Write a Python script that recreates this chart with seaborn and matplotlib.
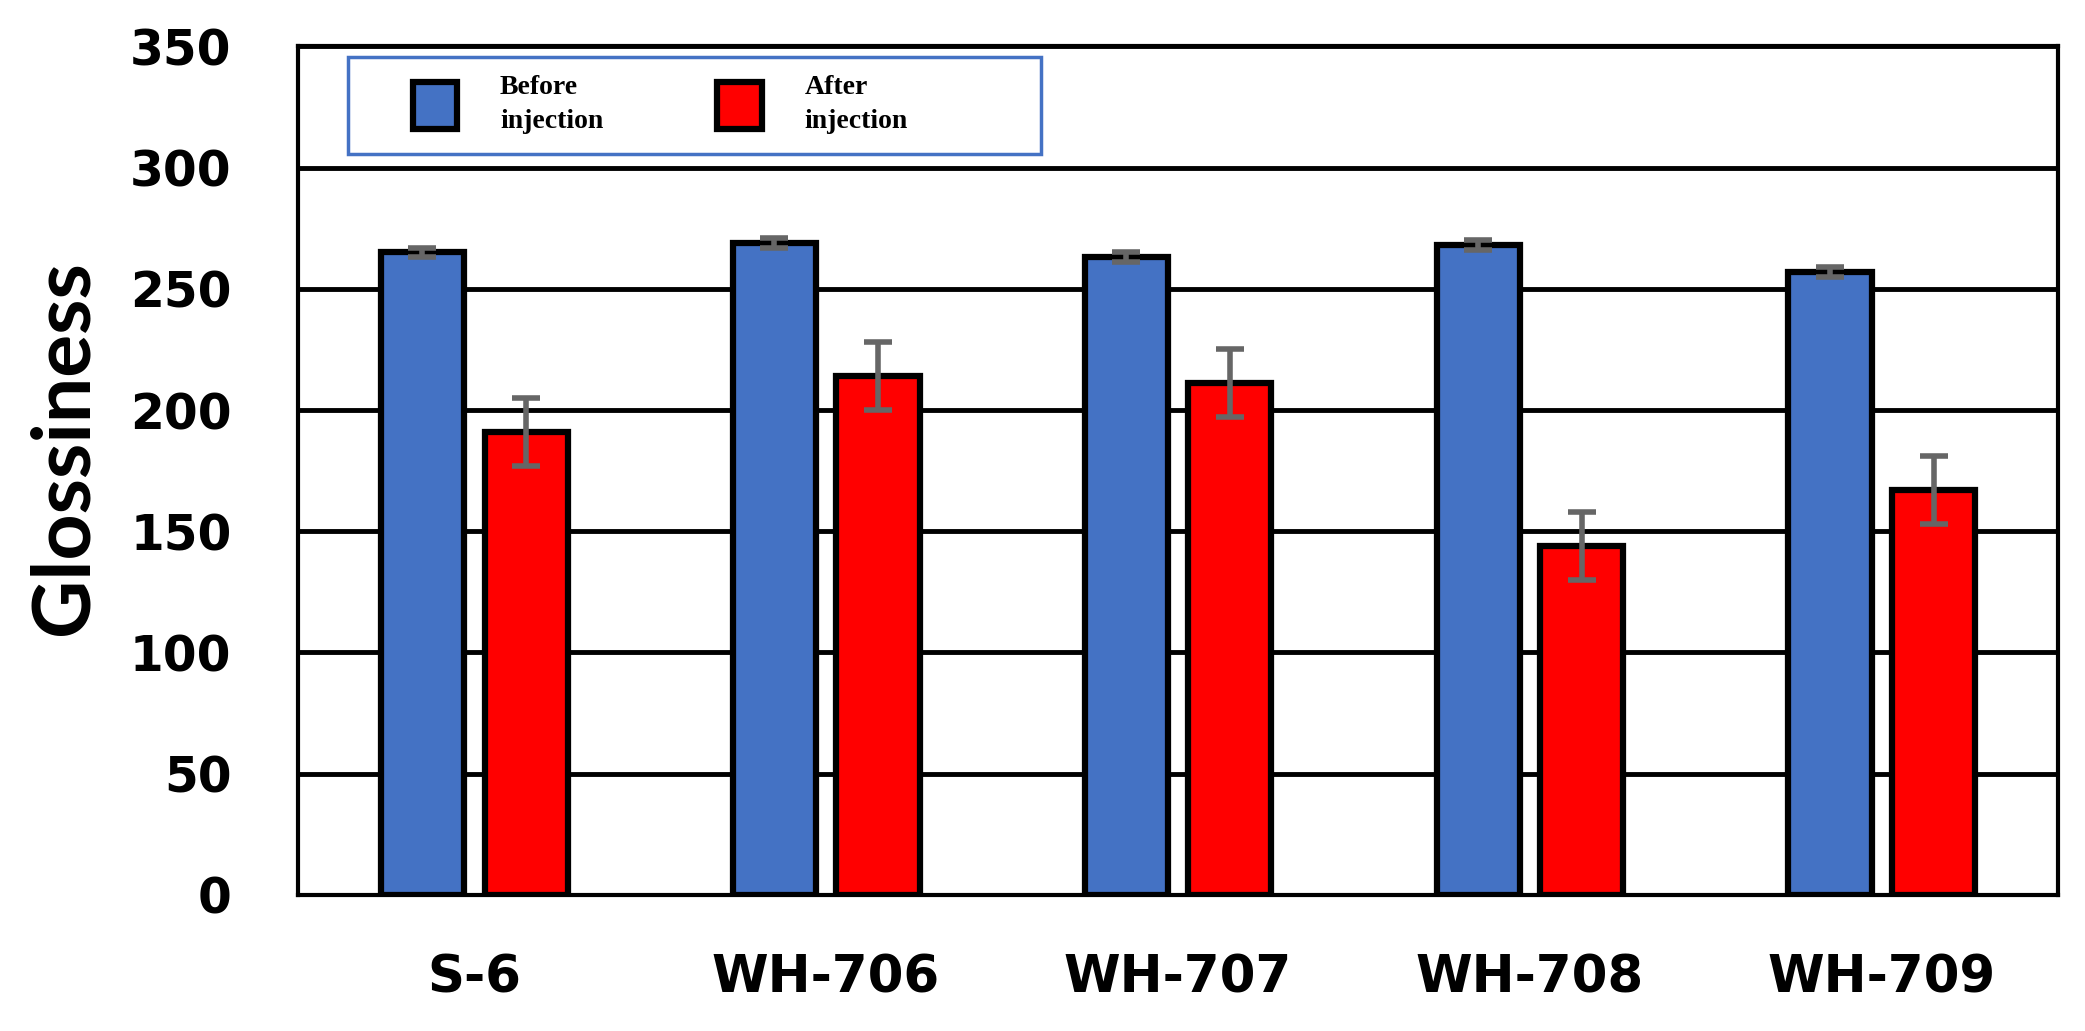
import matplotlib
matplotlib.use("Agg")
import matplotlib.pyplot as plt
from matplotlib.patches import Rectangle
import numpy as np
import pandas as pd
import seaborn as sns

samples = ["S-6", "WH-706", "WH-707", "WH-708", "WH-709"]
before = [265, 269, 263, 268, 257]
before_err = [2, 2, 2, 2, 2]
after = [191, 214, 211, 144, 167]
after_err = [14, 14, 14, 14, 14]
states = ["Before injection", "After injection"]

BLUE = "#4472C4"
RED = "#FF0000"

df = pd.DataFrame({
    "sample": samples * 2,
    "gloss": before + after,
    "state": [states[0]] * len(samples) + [states[1]] * len(samples),
})
errs = {states[0]: before_err, states[1]: after_err}

sns.set_theme(style="white")
fig, ax = plt.subplots(figsize=(20.85, 10.31), dpi=100)
fig.subplots_adjust(left=0.143, right=0.987, top=0.955, bottom=0.132)

sns.barplot(
    data=df, x="sample", y="gloss", hue="state", palette=[BLUE, RED],
    saturation=1, width=0.59, gap=0.2, edgecolor="black", linewidth=4.5,
    errorbar=None, ax=ax, zorder=3,
)

for cont, st in zip(ax.containers, states):
    xs = [p.get_x() + p.get_width() / 2 for p in cont]
    ys = [p.get_height() for p in cont]
    ax.errorbar(xs, ys, yerr=errs[st], fmt="none", ecolor="#666666",
                elinewidth=4, capsize=10, capthick=4, zorder=4)

ax.set_ylim(0, 350)
ax.set_yticks(np.arange(0, 351, 50))
ax.set_xlim(-0.5, len(samples) - 0.5)
ax.yaxis.grid(True, color="black", linewidth=3.5)
ax.xaxis.grid(False)
ax.set_axisbelow(True)
for sp in ax.spines.values():
    sp.set_color("black")
    sp.set_linewidth(3)
ax.tick_params(axis="y", length=0, labelsize=35, colors="black", pad=48)
ax.tick_params(axis="x", length=0, labelsize=37, colors="black", pad=42)
for lab in ax.get_xticklabels() + ax.get_yticklabels():
    lab.set_fontweight("bold")
    lab.set_family("DejaVu Sans")

ax.set_xlabel("")
ax.set_ylabel("Glossiness", fontsize=58, fontweight="bold", color="black",
              family="Lato")
ax.yaxis.set_label_coords(-0.112, 0.527)

# legend: handles without frame, blue box drawn behind them
handles, _ = ax.get_legend_handles_labels()
leg = ax.legend(
    handles, ["Before\ninjection", "After\ninjection"],
    loc="upper left", bbox_to_anchor=(0.065, 0.966),
    ncol=2, frameon=False, borderpad=0, borderaxespad=0,
    handlelength=1.6, handleheight=2.2, handletextpad=1.55, columnspacing=4.1,
    prop={"family": "Liberation Serif", "weight": "bold", "size": 20},
)
leg.set_zorder(6)
for t in leg.get_texts():
    t.set_color("black")
    t.set_linespacing(1.45)
ax.add_patch(Rectangle((0.0284, 0.873), 0.394, 0.115, transform=ax.transAxes,
                       facecolor="white", edgecolor=BLUE, linewidth=2.5, zorder=5))

fig.savefig("out.png", dpi=100)
